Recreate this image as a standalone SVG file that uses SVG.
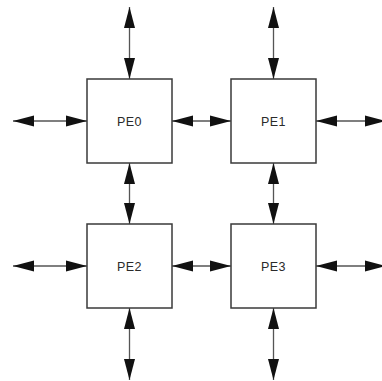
<svg xmlns="http://www.w3.org/2000/svg" width="382" height="381" viewBox="0 0 382 381">
  <style>
    .pe { fill: #ffffff; stroke: #3a3a3a; stroke-width: 1.5; }
    .lbl { font-family: "Liberation Sans", Arial, sans-serif; font-size: 12.5px; fill: #2a2a2a; text-anchor: middle; dominant-baseline: central; letter-spacing: 0.5px; }
    .link { stroke: #555555; stroke-width: 1.3; fill: none; marker-start: url(#head); marker-end: url(#head); }
  </style>
  <defs>
    <marker id="head" markerUnits="userSpaceOnUse" markerWidth="21" markerHeight="12" viewBox="0 0 21 12" refX="21" refY="6" orient="auto-start-reverse">
      <path d="M21,6 L0,0.5 L0,11.5 Z" fill="#111111"/>
    </marker>
  </defs>

  <rect width="382" height="381" fill="#ffffff"/>

  <!-- bidirectional links between the processing elements and to the outside -->
  <g id="connectors">
    <!-- column 0 -->
    <line class="link" x1="129.5" y1="7" x2="129.5" y2="79"/>
    <line class="link" x1="129.5" y1="163" x2="129.5" y2="224"/>
    <line class="link" x1="129.5" y1="308" x2="129.5" y2="380"/>
    <!-- column 1 -->
    <line class="link" x1="273.5" y1="7" x2="273.5" y2="79"/>
    <line class="link" x1="273.5" y1="163" x2="273.5" y2="224"/>
    <line class="link" x1="273.5" y1="308" x2="273.5" y2="380"/>
    <!-- row 0 -->
    <line class="link" x1="13" y1="121" x2="87" y2="121"/>
    <line class="link" x1="172" y1="121" x2="231" y2="121"/>
    <line class="link" x1="316" y1="121" x2="386" y2="121"/>
    <!-- row 1 -->
    <line class="link" x1="13" y1="266" x2="87" y2="266"/>
    <line class="link" x1="172" y1="266" x2="231" y2="266"/>
    <line class="link" x1="316" y1="266" x2="386" y2="266"/>
  </g>

  <g id="pe0">
    <rect class="pe" x="87" y="79" width="85" height="84"/>
    <text class="lbl" x="129.5" y="122">PE0</text>
  </g>
  <g id="pe1">
    <rect class="pe" x="231" y="79" width="85" height="84"/>
    <text class="lbl" x="273.5" y="122">PE1</text>
  </g>
  <g id="pe2">
    <rect class="pe" x="87" y="224" width="85" height="84"/>
    <text class="lbl" x="129.5" y="267">PE2</text>
  </g>
  <g id="pe3">
    <rect class="pe" x="231" y="224" width="85" height="84"/>
    <text class="lbl" x="273.5" y="267">PE3</text>
  </g>
</svg>
